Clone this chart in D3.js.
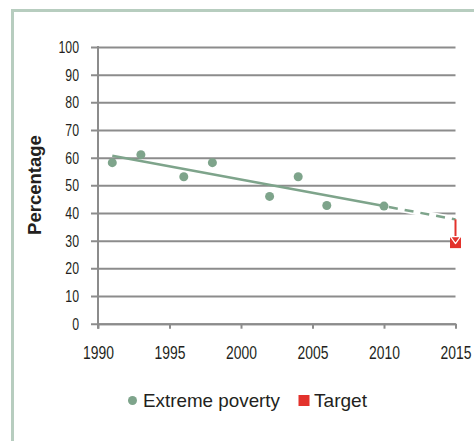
<!DOCTYPE html>
<html>
<head>
<meta charset="utf-8">
<script src="https://cdn.jsdelivr.net/npm/d3@7"></script>
<style>
  html, body { margin: 0; padding: 0; background: #fff; }
  svg { display: block; }
</style>
</head>
<body>
<svg id="chart" width="474" height="441"></svg>
<script>
// Survey years and share of population in extreme poverty (%)
const years = [1991, 1993, 1996, 1998, 2002, 2004, 2006, 2010];
const poverty = [58.2, 61.1, 53.1, 58.2, 46.0, 53.1, 42.7, 42.5];

// Fitted trend over the observed years, and its projection to 2015
const trendYears = [1991, 2010];
const trendValues = [60.7, 42.5];
const projYears = [2010, 2015];
const projValues = [42.5, 37.7];

// Target for 2015
const targetYear = 2015;
const targetValue = 29.3;

const xTicks = [1990, 1995, 2000, 2005, 2010, 2015];
const yTicks = [0, 10, 20, 30, 40, 50, 60, 70, 80, 90, 100];
const legendLabels = ["Extreme poverty", "Target"];

const green = "#7ea48b";
const red = "#e3322c";
const grid = "#8c8c8c";
const ink = "#231f20";
const sans = "'Liberation Sans', Arial, sans-serif";

const svg = d3.select("#chart");

// Squeeze tick labels horizontally (condensed look), anchored at their own x
function condense(sel, factor) {
  sel.each(function () {
    const t = d3.select(this);
    const x0 = +t.attr("x") || 0;
    t.attr("x", 0).attr("transform", `translate(${x0},0) scale(${factor},1)`);
  });
}

// Panel frame (left and top edges)
svg.append("path")
  .attr("d", "M12.5,441 V10.5 H474")
  .attr("fill", "none")
  .attr("stroke", "#b7cdbf")
  .attr("stroke-width", 3);

const x = d3.scaleLinear().domain([1990, 2015]).range([98, 455.5]);
const y = d3.scaleLinear().domain([0, 100]).range([323.7, 47]);

// Horizontal gridlines with left ticks
const yAxis = d3.axisLeft(y)
  .tickValues(yTicks)
  .tickSize(-(x(2015) - x(1990)))
  .tickSizeOuter(0)
  .tickPadding(19);
const gy = svg.append("g").attr("transform", `translate(${x(1990)},0)`).call(yAxis);
gy.select(".domain").remove();
gy.selectAll(".tick line")
  .attr("x1", -7)
  .attr("stroke", grid)
  .attr("stroke-width", 2);
gy.selectAll(".tick text")
  .attr("font-family", sans)
  .attr("font-size", 16)
  .attr("fill", ink)
  .attr("dy", "0.34em")
  .call(condense, 0.77);

// Vertical axis line
svg.append("line")
  .attr("x1", x(1990)).attr("x2", x(1990))
  .attr("y1", y(100) - 1).attr("y2", y(0) + 5)
  .attr("stroke", grid).attr("stroke-width", 2);

// Bottom axis with tick marks below
const xAxis = d3.axisBottom(x)
  .tickValues(xTicks)
  .tickFormat(d3.format("d"))
  .tickSize(5)
  .tickSizeOuter(0)
  .tickPadding(17);
const gx = svg.append("g").attr("transform", `translate(0,${y(0)})`).call(xAxis);
gx.select(".domain").attr("stroke", grid).attr("stroke-width", 2);
gx.selectAll(".tick line").attr("stroke", grid).attr("stroke-width", 2);
gx.selectAll(".tick text")
  .attr("font-family", sans)
  .attr("font-size", 18.5)
  .attr("fill", ink)
  .call(condense, 0.75);

// Axis title
svg.append("text")
  .attr("transform", `translate(41,185) rotate(-90)`)
  .attr("text-anchor", "middle")
  .attr("font-family", sans)
  .attr("font-weight", "bold")
  .attr("font-size", 18.5)
  .attr("fill", ink)
  .text("Percentage");

const line = d3.line().x(d => x(d[0])).y(d => y(d[1]));

// Trend line (solid) and projection (dashed, with a white halo)
svg.append("path")
  .datum(d3.zip(trendYears, trendValues))
  .attr("d", line)
  .attr("fill", "none")
  .attr("stroke", green)
  .attr("stroke-width", 2.5);

const proj = d3.zip(projYears, projValues);
svg.append("path")
  .datum(proj)
  .attr("d", line)
  .attr("fill", "none")
  .attr("stroke", "#fff")
  .attr("stroke-width", 6);
svg.append("path")
  .datum(proj)
  .attr("d", line)
  .attr("fill", "none")
  .attr("stroke", green)
  .attr("stroke-width", 2.5)
  .attr("stroke-dasharray", "9,7")
  .attr("stroke-dashoffset", -5);

// Observations
svg.append("g").selectAll("circle")
  .data(d3.zip(years, poverty))
  .join("circle")
  .attr("cx", d => x(d[0]))
  .attr("cy", d => y(d[1]))
  .attr("r", 4.5)
  .attr("fill", green);

// Target marker
const sq = 11;
svg.append("rect")
  .attr("x", x(targetYear) - sq / 2)
  .attr("y", y(targetValue) - sq / 2)
  .attr("width", sq).attr("height", sq)
  .attr("fill", red);

// Arrow from projected value down to the target
const arrowTop = y(projValues[1]);
const arrowTip = y(targetValue) + 1;
svg.append("line")
  .attr("x1", x(targetYear)).attr("x2", x(targetYear))
  .attr("y1", arrowTop).attr("y2", arrowTip - 3)
  .attr("stroke", red).attr("stroke-width", 2);
svg.append("path")
  .attr("d", `M${x(targetYear) - 5},${arrowTip - 7} L${x(targetYear)},${arrowTip} L${x(targetYear) + 5},${arrowTip - 7} Z`)
  .attr("fill", red)
  .attr("stroke", "#fff")
  .attr("stroke-width", 1.2)
  .attr("stroke-linejoin", "round");

// Legend
const lg = svg.append("g").attr("font-family", sans)
  .attr("font-size", 18.5).attr("fill", ink);
lg.append("circle").attr("cx", 132.5).attr("cy", 400.5).attr("r", 4.5).attr("fill", green);
lg.append("text").attr("x", 143).attr("y", 407).text(legendLabels[0])
  .attr("textLength", 137).attr("lengthAdjust", "spacingAndGlyphs");
lg.append("rect").attr("x", 298.5).attr("y", 395).attr("width", 11).attr("height", 11).attr("fill", red);
lg.append("text").attr("x", 314).attr("y", 407).text(legendLabels[1])
  .attr("textLength", 53).attr("lengthAdjust", "spacingAndGlyphs");
</script>
</body>
</html>
